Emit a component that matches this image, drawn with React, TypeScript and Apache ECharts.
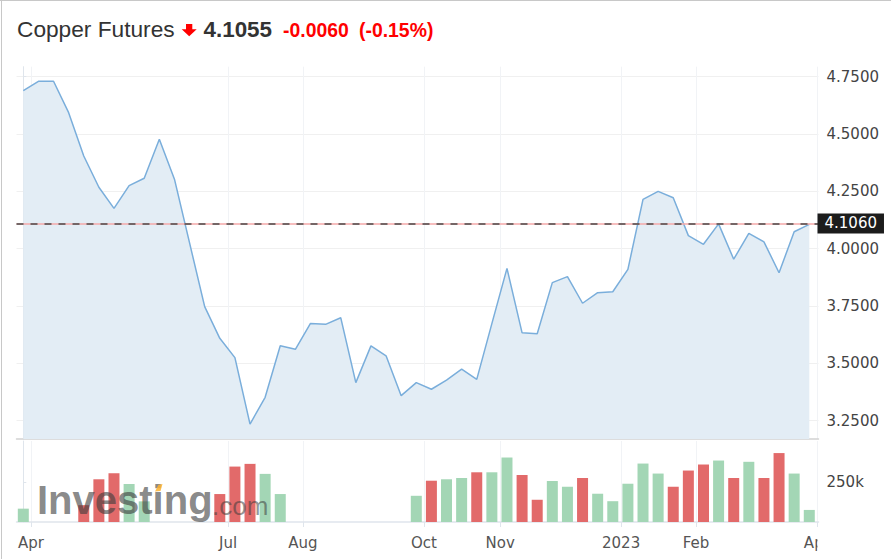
import React, { useEffect, useRef } from "react";
import * as echarts from "echarts";

// Weekly closes, Copper Futures (index 0 = last week of March 2022)
const price = [
  4.689, 4.730, 4.730, 4.593, 4.404, 4.268, 4.176, 4.275, 4.307, 4.477,
  4.303, 4.025, 3.747, 3.609, 3.525, 3.235, 3.352, 3.577, 3.561, 3.674,
  3.670, 3.699, 3.416, 3.576, 3.533, 3.359, 3.416, 3.387, 3.427, 3.475,
  3.430, 3.673, 3.914, 3.633, 3.629, 3.852, 3.878, 3.762, 3.808, 3.812,
  3.910, 4.215, 4.250, 4.222, 4.057, 4.019, 4.108, 3.954, 4.067, 4.030,
  3.895, 4.074, 4.106,
];

// Weekly volume in thousands (null = no bar)
const volumeK: (number | null)[] = [
  84, null, null, null, 106, 269, 307, 239, 130, null,
  null, null, null, 176, 349, 366, 303, 176, null, null,
  null, null, null, null, null, null, 165, 260, 269, 277,
  313, 313, 406, 296, 140, 258, 222, 277, 178, 131,
  241, 368, 305, 222, 324, 362, 387, 277, 379, 277,
  434, 305, 76,
];

// Month tick positions (in week index units) and their labels
const monthTicks = [0.5, 13.55, 18.5, 26.5, 31.55, 39.55, 44.5, 52.5];
const monthLabels = ["Apr", "Jul", "Aug", "Oct", "Nov", "2023", "Feb", "Apr"];

const priceTicks = [3.25, 3.5, 3.75, 4.0, 4.25, 4.5, 4.75];
const volumeTicksK = [250];

const lastPrice = 4.106;
const prevClose = 4.1115;

const GREEN = "#a3d6b5";
const RED = "#e26a6a";
const AXIS_COL = "#dfe5ec";
const LABEL_FONT = "DejaVu Sans";

export default function App() {
  const ref = useRef<HTMLDivElement>(null);

  useEffect(() => {
    if (!ref.current) return;
    const chart = echarts.init(ref.current, null, { renderer: "svg" });

    const priceData = price.map((v, i) => [i, v]);
    const volData = volumeK
      .map((v, i) =>
        v == null
          ? null
          : {
              value: [i, v],
              itemStyle: {
                color: i === 0 || price[i] >= price[i - 1] ? GREEN : RED,
              },
            }
      )
      .filter((d) => d !== null);

    const xMin = -0.45;
    const xMax = 52.61;

    const monthFormatter = (v: number) => {
      let best = 0;
      let bd = Infinity;
      monthTicks.forEach((t, k) => {
        const d = Math.abs(t - v);
        if (d < bd) {
          bd = d;
          best = k;
        }
      });
      return monthLabels[best];
    };

    const option: any = {
      animation: false,
      backgroundColor: "#ffffff",
      grid: [
        { left: 16.5, right: 72.5, top: 66.7, bottom: 120 },
        { left: 16.5, right: 72.5, top: 441, bottom: 37 },
      ],
      xAxis: [
        {
          type: "value",
          gridIndex: 0,
          min: xMin,
          max: xMax,
          axisLine: { show: true, onZero: false, lineStyle: { color: "#d2d2d2", width: 1.5 } },
          axisTick: { show: false, customValues: monthTicks },
          axisLabel: { show: false, customValues: monthTicks },
          splitLine: { show: true, lineStyle: { color: "#f1f3f6", width: 1 } },
        },
        {
          type: "value",
          gridIndex: 1,
          min: xMin,
          max: xMax,
          axisLine: { show: true, onZero: false, lineStyle: { color: AXIS_COL, width: 1.5 } },
          axisTick: { show: true, length: 5, customValues: monthTicks, lineStyle: { color: AXIS_COL } },
          axisLabel: {
            customValues: monthTicks,
            formatter: monthFormatter,
            color: "#555",
            fontSize: 15,
            fontFamily: LABEL_FONT,
            margin: 13,
          },
          splitLine: { show: true, lineStyle: { color: "#f1f3f6", width: 1 } },
        },
      ],
      yAxis: [
        {
          type: "value",
          gridIndex: 0,
          position: "right",
          min: 3.17,
          max: 4.7936,
          axisLine: { show: true, lineStyle: { color: AXIS_COL } },
          axisTick: { show: true, length: 3, customValues: priceTicks, lineStyle: { color: AXIS_COL } },
          axisLabel: {
            customValues: priceTicks,
            formatter: (v: number) => v.toFixed(4),
            color: "#444",
            fontSize: 15,
            fontFamily: LABEL_FONT,
            margin: 8,
          },
          splitLine: { show: true, lineStyle: { color: "#f0f0f0" } },
        },
        {
          type: "value",
          gridIndex: 1,
          position: "right",
          min: 0,
          max: 510,
          axisLine: { show: true, lineStyle: { color: AXIS_COL } },
          axisTick: { show: true, length: 3, customValues: volumeTicksK, lineStyle: { color: AXIS_COL } },
          axisLabel: {
            customValues: volumeTicksK,
            formatter: (v: number) => v + "k",
            color: "#444",
            fontSize: 15,
            fontFamily: LABEL_FONT,
            margin: 8,
          },
          splitLine: { show: false },
        },
      ],
      series: [
        {
          type: "line",
          xAxisIndex: 0,
          yAxisIndex: 0,
          data: priceData,
          symbol: "none",
          lineStyle: { color: "#7aaedb", width: 1.5 },
          areaStyle: { color: "#e3edf5", opacity: 1 },
          z: 2,
          markLine: {
            silent: true,
            symbol: ["none", "none"],
            animation: false,
            data: [
              {
                yAxis: prevClose,
                lineStyle: { color: "#f4a9a9", type: "solid", width: 1.5 },
                label: { show: false },
              },
              {
                yAxis: lastPrice,
                lineStyle: { color: "#4a4a4a", type: [7, 7], width: 1.5 },
                label: {
                  show: true,
                  position: "end",
                  distance: -1,
                  formatter: lastPrice.toFixed(4),
                  color: "#ffffff",
                  backgroundColor: "#1c1c1c",
                  padding: [3, 7, 2, 7],
                  fontSize: 15,
                  fontFamily: LABEL_FONT,
                },
              },
            ],
          },
        },
        {
          type: "bar",
          xAxisIndex: 1,
          yAxisIndex: 1,
          data: volData,
          barWidth: 11,
          z: 2,
        },
      ],
      graphic: [
        { type: "line", shape: { x1: 1.5, y1: 0, x2: 1.5, y2: 559 }, style: { stroke: "#c8c8c8", lineWidth: 1 }, z: 200 },
        { type: "line", shape: { x1: 0, y1: 0.5, x2: 891, y2: 0.5 }, style: { stroke: "#c8c8c8", lineWidth: 1 }, z: 200 },
        {
          type: "text",
          x: 17,
          y: 29,
          z: 200,
          style: {
            text: "Copper Futures",
            font: '22.7px "Liberation Sans", Arial, sans-serif',
            fill: "#333333",
            align: "left",
            verticalAlign: "middle",
            textAlign: "left",
            textVerticalAlign: "middle",
          },
        },
        {
          type: "polygon",
          z: 200,
          shape: {
            points: [
              [186, 24], [192.3, 24], [192.3, 29.3], [196.7, 29.3],
              [189.2, 36.2], [181.7, 29.3], [186, 29.3],
            ],
          },
          style: { fill: "#ff0000" },
        },
        {
          type: "text",
          x: 203.5,
          y: 29,
          z: 200,
          style: {
            text: "4.1055",
            font: 'bold 22.4px "Liberation Sans", Arial, sans-serif',
            fill: "#333333",
            align: "left",
            verticalAlign: "middle",
            textAlign: "left",
            textVerticalAlign: "middle",
          },
        },
        {
          type: "text",
          x: 283,
          y: 30,
          z: 200,
          style: {
            text: "-0.0060",
            font: 'bold 19.4px "Liberation Sans", Arial, sans-serif',
            fill: "#ff0000",
            align: "left",
            verticalAlign: "middle",
            textAlign: "left",
            textVerticalAlign: "middle",
          },
        },
        {
          type: "text",
          x: 359,
          y: 30,
          z: 200,
          style: {
            text: "(-0.15%)",
            font: 'bold 19.4px "Liberation Sans", Arial, sans-serif',
            fill: "#ff0000",
            align: "left",
            verticalAlign: "middle",
            textAlign: "left",
            textVerticalAlign: "middle",
          },
        },
        // watermark
        {
          type: "text",
          x: 37,
          y: 500,
          z: 150,
          silent: true,
          style: {
            text: "Investing",
            font: 'bold 40px "Liberation Sans", Arial, sans-serif',
            fill: "rgba(60,60,60,0.62)",
            align: "left",
            verticalAlign: "middle",
            textAlign: "left",
            textVerticalAlign: "middle",
          },
        },
        {
          type: "text",
          x: 212,
          y: 505.5,
          z: 150,
          silent: true,
          style: {
            text: ".com",
            font: '26px "Liberation Sans", Arial, sans-serif',
            fill: "rgba(60,60,60,0.55)",
            align: "left",
            verticalAlign: "middle",
            textAlign: "left",
            textVerticalAlign: "middle",
          },
        },
        {
          type: "polygon",
          z: 151,
          silent: true,
          shape: { points: [[155, 491.5], [158.5, 484.8], [162.5, 484], [160.5, 491]] },
          style: { fill: "rgba(255,178,45,0.85)" },
        },
        // clip of the last month label at the plot edge
        {
          type: "rect",
          z: 300,
          silent: true,
          shape: { x: 817.5, y: 530, width: 74, height: 29 },
          style: { fill: "#ffffff" },
        },
      ],
    };

    chart.setOption(option);
    return () => chart.dispose();
  }, []);

  return (
    <div
      ref={ref}
      style={{ position: "fixed", left: 0, top: 0, width: 891, height: 559, background: "#fff" }}
    />
  );
}
